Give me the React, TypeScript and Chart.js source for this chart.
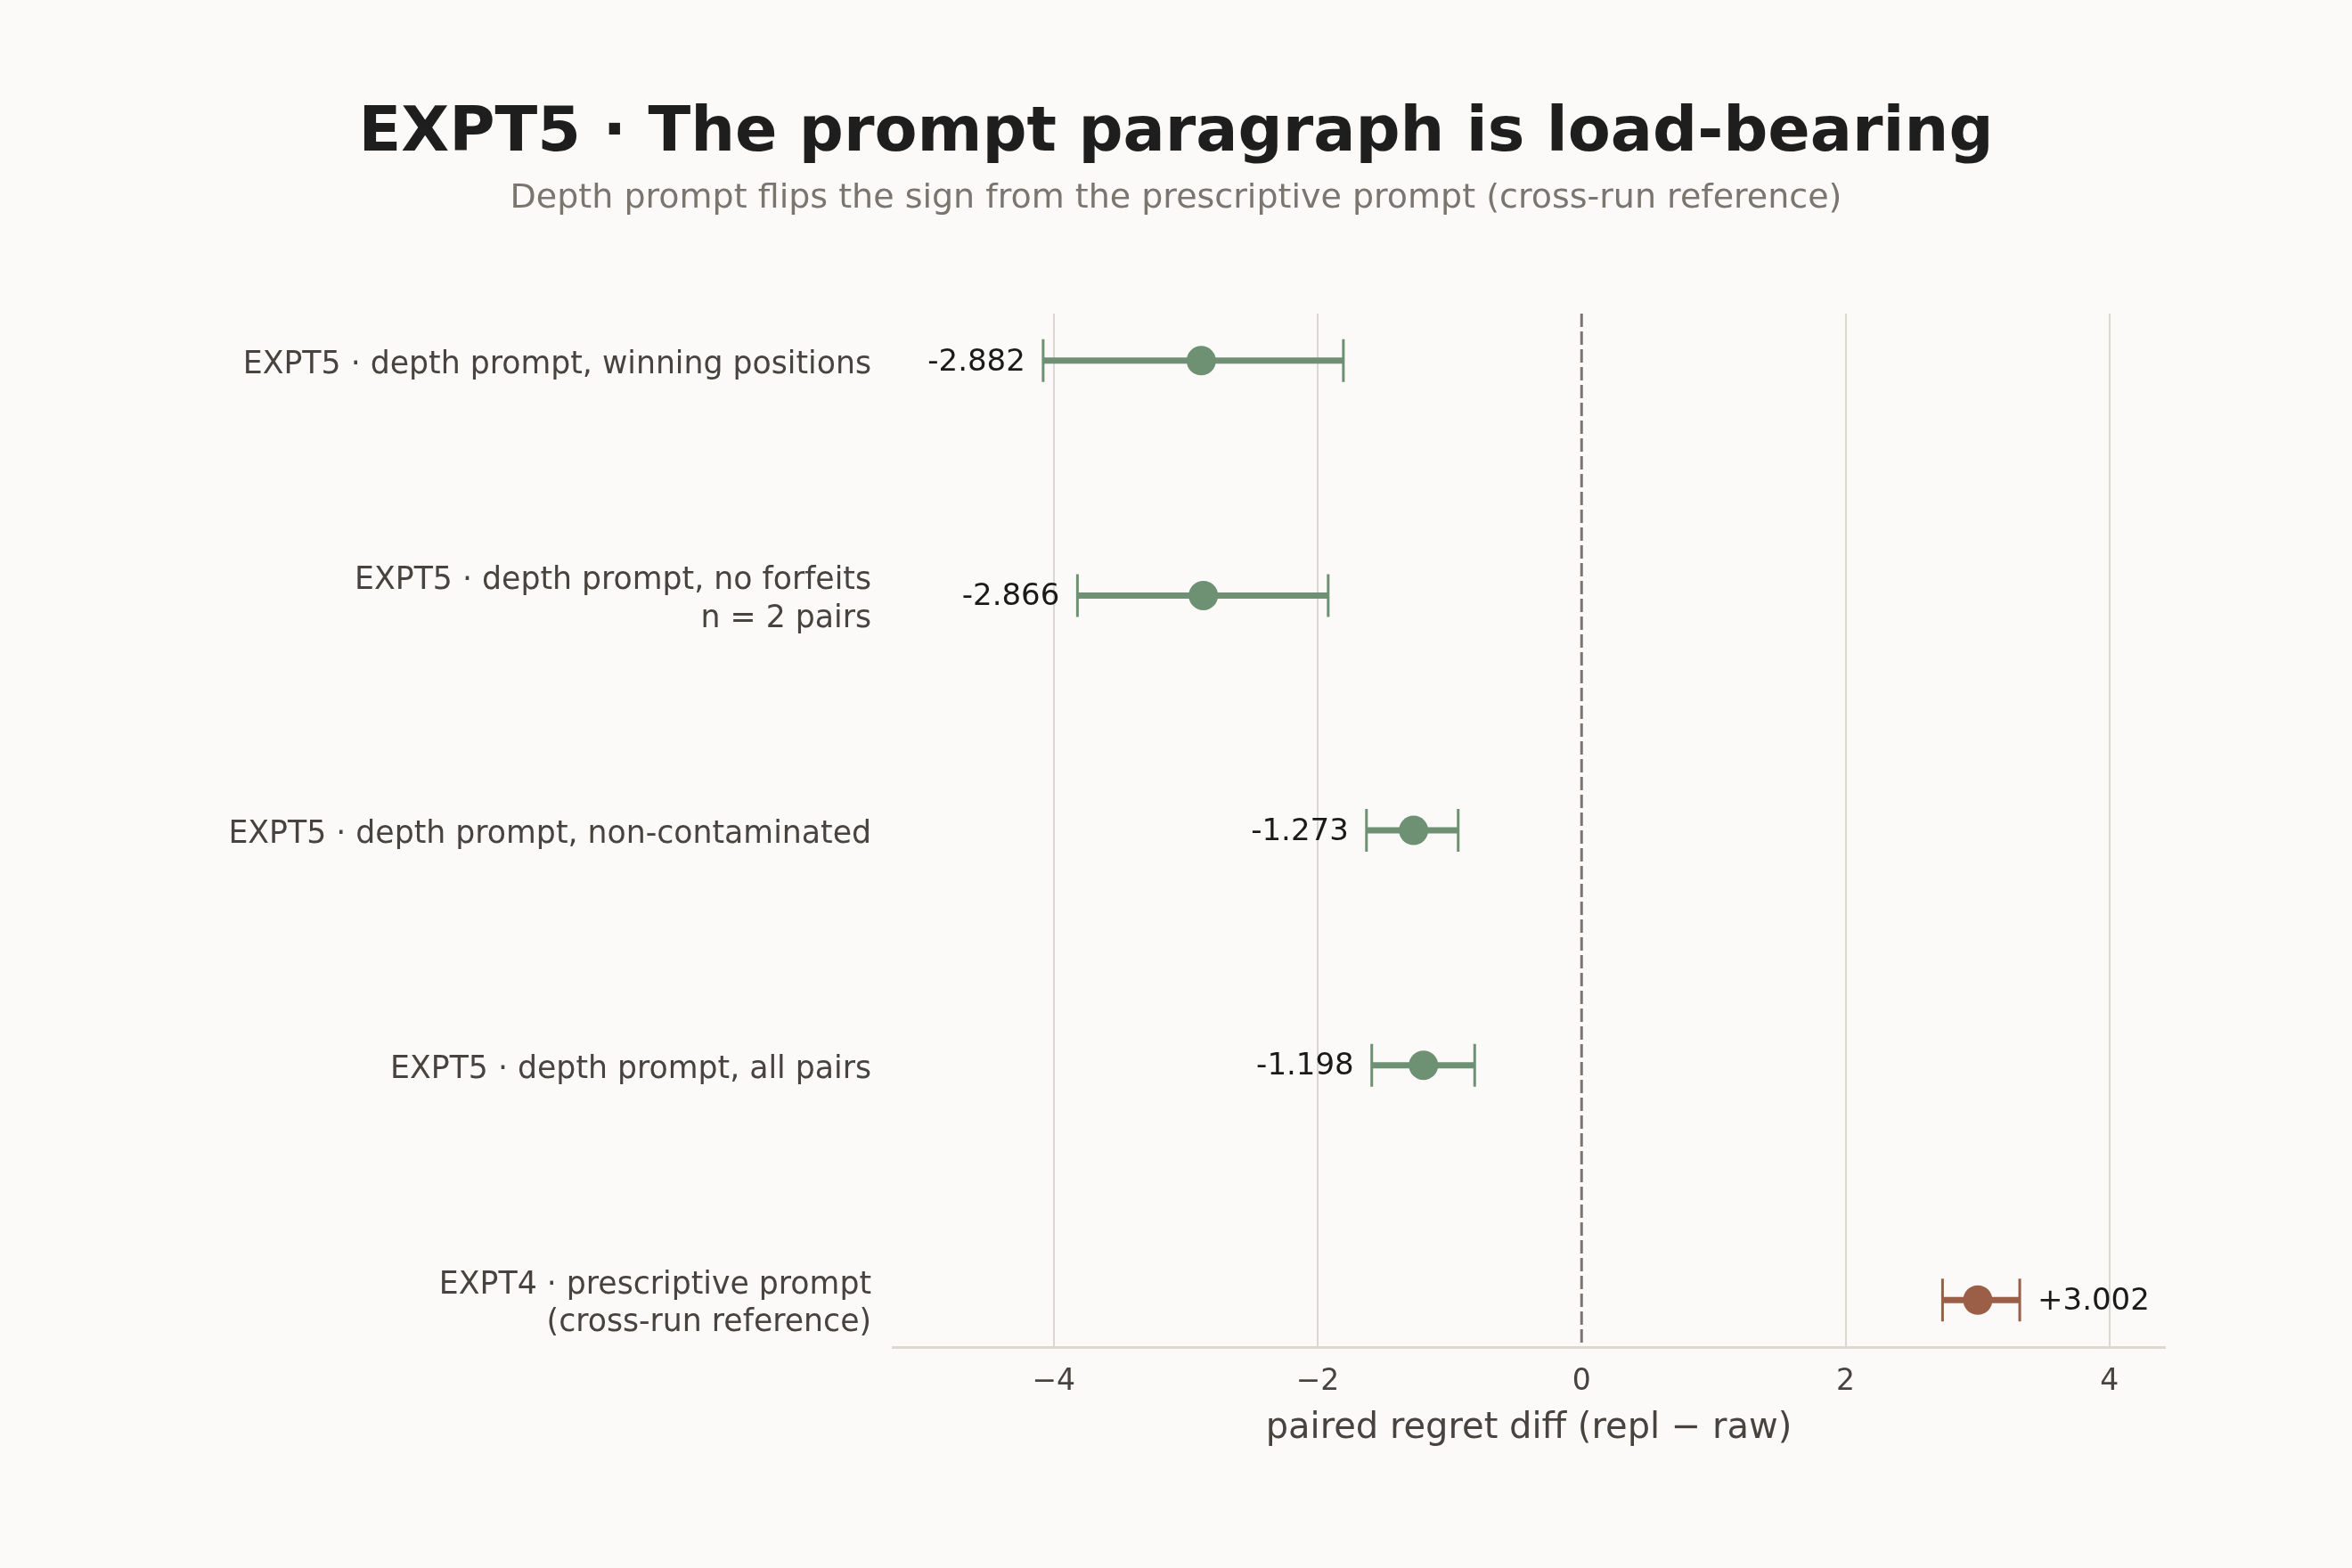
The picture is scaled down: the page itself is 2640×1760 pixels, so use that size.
import { useEffect, useRef } from 'react';
import { Chart, registerables } from 'chart.js';

Chart.register(...registerables);

// rows, top to bottom
const categories: string[][] = [
  ['EXPT5 · depth prompt, winning positions'],
  ['EXPT5 · depth prompt, no forfeits', 'n = 2 pairs'],
  ['EXPT5 · depth prompt, non-contaminated'],
  ['EXPT5 · depth prompt, all pairs'],
  ['EXPT4 · prescriptive prompt', '(cross-run reference)'],
];
const means = [-2.882, -2.866, -1.273, -1.198, 3.002];
const lows = [-4.08, -3.82, -1.63, -1.59, 2.735];
const highs = [-1.805, -1.92, -0.935, -0.81, 3.32];
const pointColors = ['#6e9173', '#6e9173', '#6e9173', '#6e9173', '#9b5e46'];
const xTicks = [-4, -2, 0, 2, 4];

const FONT = "'DejaVu Sans', sans-serif";

const fmt = (v: number) => (v > 0 ? '+' : '') + v.toFixed(3);

const zeroLine = {
  id: 'zeroLine',
  beforeDatasetsDraw(chart: any) {
    const { ctx, chartArea, scales } = chart;
    const x = scales.x.getPixelForValue(0);
    ctx.save();
    ctx.strokeStyle = '#7b756f';
    ctx.lineWidth = 3;
    ctx.setLineDash([15, 5]);
    ctx.beginPath();
    ctx.moveTo(x, chartArea.top);
    ctx.lineTo(x, chartArea.bottom);
    ctx.stroke();
    ctx.restore();
  },
};

const errorBars = {
  id: 'errorBars',
  beforeDatasetsDraw(chart: any) {
    const { ctx, scales } = chart;
    ctx.save();
    means.forEach((_, i) => {
      const y = scales.y.getPixelForValue(i);
      const xl = scales.x.getPixelForValue(lows[i]);
      const xh = scales.x.getPixelForValue(highs[i]);
      ctx.strokeStyle = pointColors[i];
      ctx.lineWidth = 7;
      ctx.beginPath();
      ctx.moveTo(xl, y);
      ctx.lineTo(xh, y);
      ctx.stroke();
      ctx.lineWidth = 3;
      ctx.beginPath();
      ctx.moveTo(xl, y - 24);
      ctx.lineTo(xl, y + 24);
      ctx.moveTo(xh, y - 24);
      ctx.lineTo(xh, y + 24);
      ctx.stroke();
    });
    ctx.restore();
  },
  afterDatasetsDraw(chart: any) {
    const { ctx, scales } = chart;
    ctx.save();
    ctx.font = `34px ${FONT}`;
    ctx.fillStyle = '#1a1a1a';
    ctx.textBaseline = 'middle';
    means.forEach((m, i) => {
      const y = scales.y.getPixelForValue(i) + 2;
      if (m < 0) {
        ctx.textAlign = 'right';
        ctx.fillText(fmt(m), scales.x.getPixelForValue(lows[i]) - 20, y);
      } else {
        ctx.textAlign = 'left';
        ctx.fillText(fmt(m), scales.x.getPixelForValue(highs[i]) + 20, y);
      }
    });
    ctx.restore();
  },
};

export default function App() {
  const canvasRef = useRef<HTMLCanvasElement>(null);
  const chartRef = useRef<Chart | null>(null);

  useEffect(() => {
    document.body.style.margin = '0';
    document.body.style.background = '#fbfaf8';
    if (!canvasRef.current) return;
    if (chartRef.current) chartRef.current.destroy();

    chartRef.current = new Chart(canvasRef.current, {
      type: 'scatter',
      data: {
        datasets: [
          {
            data: means.map((m, i) => ({ x: m, y: i })),
            pointBackgroundColor: pointColors,
            pointBorderWidth: 0,
            pointRadius: 16.5,
            pointHoverRadius: 16.5,
          },
        ],
      },
      options: {
        animation: false,
        responsive: true,
        maintainAspectRatio: false,
        devicePixelRatio: 1,
        layout: { padding: 0 },
        plugins: {
          legend: { display: false },
          tooltip: { enabled: false },
          title: {
            display: true,
            text: 'EXPT5 · The prompt paragraph is load-bearing',
            color: '#1e1e1e',
            font: { family: FONT, size: 70, weight: 'bold' },
            padding: { top: 109, bottom: 7 },
          },
          subtitle: {
            display: true,
            text: 'Depth prompt flips the sign from the prescriptive prompt (cross-run reference)',
            color: '#7a766f',
            font: { family: FONT, size: 38 },
            padding: { top: 0, bottom: 106.5 },
          },
        },
        scales: {
          x: {
            type: 'linear',
            min: -5.22,
            max: 4.42,
            afterBuildTicks: (s: any) => {
              s.ticks = xTicks.map((v) => ({ value: v }));
            },
            afterFit: (s: any) => {
              s.height = 248;
            },
            grid: {
              color: (c: any) => (c.tick && c.tick.value === 0 ? 'rgba(0,0,0,0)' : '#dcd7d1'),
              lineWidth: 2,
              drawTicks: false,
            },
            border: { display: true, color: '#dcd7d1', width: 3 },
            ticks: {
              color: '#47433f',
              font: { family: FONT, size: 33 },
              padding: 20,
              callback: (v: any) => (v < 0 ? '\u2212' + Math.abs(v) : String(v)),
            },
            title: {
              display: true,
              text: 'paired regret diff (repl \u2212 raw)',
              color: '#47433f',
              font: { family: FONT, size: 40 },
              padding: { top: 0, bottom: 132.5 },
            },
          },
          y: {
            type: 'linear',
            min: -0.2,
            max: 4.2,
            reverse: true,
            afterBuildTicks: (s: any) => {
              s.ticks = categories.map((_, i) => ({ value: i }));
            },
            afterFit: (s: any) => {
              s.width = 1002;
            },
            grid: { display: false, drawTicks: false },
            border: { display: false },
            ticks: {
              color: '#47433f',
              font: { family: FONT, size: 34.7, lineHeight: 1.22 },
              padding: 24,
              labelOffset: 5,
              callback: (v: any) => categories[v],
            },
          },
          // empty right margin so the title stays centred on the full width
          yRight: {
            type: 'linear',
            position: 'right',
            display: true,
            afterFit: (s: any) => {
              s.width = 210;
            },
            grid: { display: false, drawTicks: false },
            border: { display: false },
            ticks: { display: false },
          },
        },
      },
      plugins: [zeroLine, errorBars],
    });

    return () => {
      if (chartRef.current) {
        chartRef.current.destroy();
        chartRef.current = null;
      }
    };
  }, []);

  return (
    <div style={{ width: '2640px', height: '1760px', background: '#fbfaf8' }}>
      <canvas ref={canvasRef}></canvas>
    </div>
  );
}
